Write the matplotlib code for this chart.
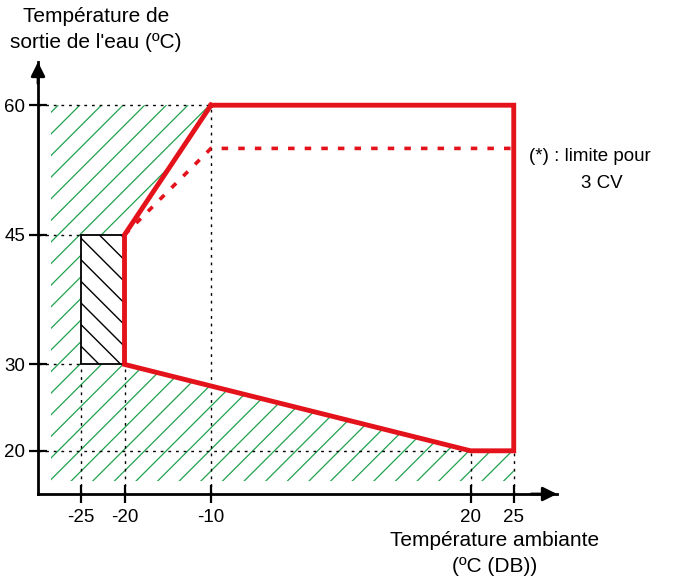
import numpy as np
import matplotlib
matplotlib.use('Agg')
import matplotlib.pyplot as plt
from matplotlib.patches import Polygon, Rectangle

plt.rcParams['font.family'] = ['Liberation Sans', 'DejaVu Sans']
plt.rcParams['axes.unicode_minus'] = False

# operating envelope (solid red)
env_x = [-10, 25, 25, 20, -20, -20, -10]
env_y = [60, 60, 20, 20, 30, 45, 60]
# limit for 3 CV (dashed red)
cv3_x = [-20, -10, 25]
cv3_y = [45, 55, 55]
# hatched zone (green) outside envelope
zone_x = [-28.5, -10, -20, -20, 20, 25, 25, -28.5]
zone_y = [60, 60, 45, 30, 20, 20, 16.5, 16.5]
# black hatched box
box_x = [-25, -20]
box_y = [30, 45]

xticks = [-25, -20, -10, 20, 25]
yticks = [20, 30, 45, 60]
# dotted guide lines
hguides = [(60, -10), (45, -25), (30, -25), (20, 20)]
vguides = [(-25, 30), (-20, 30), (-10, 60), (20, 20), (25, 20)]

red = '#e3121b'
green = '#1fa24e'

fig = plt.figure(figsize=(6.75, 5.83), dpi=100)
ax = fig.add_axes([38/675, 89/583, 519/675, 432/583])
ax.set_xlim(-30, 30)
ax.set_ylim(15, 65)

# green hatch
zone = Polygon(list(zip(zone_x, zone_y)), closed=True, facecolor='none',
               edgecolor='none', transform=ax.transData)
ax.add_patch(zone)
for c in np.arange(0.17 - 2.5*4, 95, 2.5):
    ln, = ax.plot([-40, 40], [-40 + c, 40 + c], color=green, lw=0.9, zorder=1)
    ln.set_clip_path(zone)

# dotted guides
for y, xe in hguides:
    ax.plot([-30, xe], [y, y], color='k', lw=1, ls=(0, (2, 3.5)), zorder=1.5)
for x, ye in vguides:
    ax.plot([x, x], [15, ye], color='k', lw=1, ls=(0, (2, 3.5)), zorder=1.5)

# black hatched box
box = Rectangle((box_x[0], box_y[0]), box_x[1] - box_x[0], box_y[1] - box_y[0],
                facecolor='white', edgecolor='k', lw=1.3, zorder=2)
ax.add_patch(box)
for c in np.arange(2.08 - 2.5*10, 30, 2.5):
    ln, = ax.plot([-40, 40], [c + 40, c - 40], color='k', lw=1, zorder=2.1)
    ln.set_clip_path(box)

# envelope lines
ax.plot(cv3_x, cv3_y, color=red, lw=2.6, dashes=(1.8, 2.8), zorder=3)
ax.plot(env_x, env_y, color=red, lw=3.5, zorder=3.5, solid_joinstyle='miter')

# axes styling
for s in ['top', 'right']:
    ax.spines[s].set_visible(False)
for s in ['left', 'bottom']:
    ax.spines[s].set_linewidth(2)
ax.set_xticks(xticks)
ax.set_yticks(yticks)
ax.tick_params(direction='inout', length=13.5, width=1.6, labelsize=13.5, pad=2.5)
ax.tick_params(axis='x', pad=4)

ax.annotate('', xy=(1, 0), xytext=(0.95, 0), xycoords='axes fraction',
            arrowprops=dict(arrowstyle='-|>', color='k', lw=2, mutation_scale=21,
                            shrinkA=0, shrinkB=0))
ax.annotate('', xy=(0, 1), xytext=(0, 0.95), xycoords='axes fraction',
            arrowprops=dict(arrowstyle='-|>', color='k', lw=2, mutation_scale=21,
                            shrinkA=0, shrinkB=0))

# texts
W, H = 675, 583
fig.text(96/W, 1 - 17/H, 'Température de', fontsize=15, ha='center', va='center')
fig.text(96/W, 1 - 43/H, "sortie de l'eau (ºC)", fontsize=15, ha='center', va='center')
fig.text(495/W, 1 - 541/H, 'Température ambiante', fontsize=15, ha='center', va='center')
fig.text(495/W, 1 - 566/H, '(ºC (DB))', fontsize=15, ha='center', va='center')
fig.text(590/W, 1 - 157/H, '(*) : limite pour', fontsize=13.5, ha='center', va='center')
fig.text(602/W, 1 - 183/H, '3 CV', fontsize=13.5, ha='center', va='center')

plt.savefig('out.png', dpi=100)
plt.close()
